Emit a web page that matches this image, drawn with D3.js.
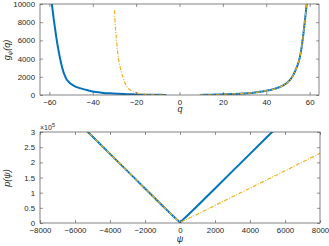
<!DOCTYPE html>
<html><head><meta charset="utf-8">
<script src="https://cdn.jsdelivr.net/npm/d3@7"></script>
<style>
html,body{margin:0;padding:0;background:#fff;}
svg{display:block;}
text{font-family:"Liberation Sans",Arial,sans-serif;fill:#262626;}
</style></head><body>
<svg id="c" width="329" height="246"></svg>
<script>
// ---- Data ----
// Top panel: g_psi(q)
const blueLeftQ = [-60,-59,-58,-57,-56,-55,-54,-53,-52,-50,-48,-46,-44,-42,-40,-36,-32,-28,-24,-20,-16,-12,-8,-6];
const blueLeftG = [12500,10300,8400,6700,5200,3950,2950,2200,1700,1200,930,760,620,500,380,260,180,130,90,60,40,25,15,10];
const orangeLeftQ = [-30,-29.5,-29,-28.5,-28,-27,-26,-25,-24,-23,-22,-21,-20,-18,-16,-14,-12,-10,-8,-6];
const orangeLeftG = [9300,7300,5900,4700,3800,2700,1900,1250,850,600,450,330,250,150,90,50,30,20,10,5];
const rightQ = [9.4,12,15,18,20,24,28,31,34,37,40,42,44,46,48,50,52,54,55,56,57,58,58.6,59];
const rightG = [10,20,35,55,70,110,150,190,260,350,470,560,680,850,1080,1420,2000,3000,3700,4800,6500,8600,9900,11000];
const topXTicks = [-60,-40,-20,0,20,40,60];
const topYTicks = [0,2000,4000,6000,8000,10000];

// Bottom panel: p(psi)
const bluePsi = [-5500,-5000,-4000,-3000,-2000,-1000,-500,0,500,1000,2000,3000,4000,5000,5500];
const blueP   = [313000,285000,228000,171000,114000,57000,29000,2000,29000,57000,114000,171000,228000,285000,313000];
const orangePsi = [-5500,-5000,-4000,-3000,-2000,-1000,-500,0,1000,2000,4000,6000,8000];
const orangeP   = [313000,285000,228000,171000,114000,57000,29000,2000,29000,58000,115000,172000,230000];
const botXTicks = [-8000,-6000,-4000,-2000,0,2000,4000,6000,8000];
const botYTicks = [0,50000,100000,150000,200000,250000,300000];
const botYLabels = ["0","0.5","1","1.5","2","2.5","3"];

const BLUE = "#0072BD", ORANGE = "#EDB120", AX = "#4d4d4d";
const svg = d3.select("#c");

function panel(opts){
  const {x0,x1,y0,y1,xdom,ydom,xt,yt,ytf,id} = opts;
  const x = d3.scaleLinear().domain(xdom).range([x0,x1]);
  const y = d3.scaleLinear().domain(ydom).range([y1,y0]);
  const g = svg.append("g");
  g.append("clipPath").attr("id",id).append("rect")
    .attr("x",x0).attr("y",y0).attr("width",x1-x0).attr("height",y1-y0);
  const plot = g.append("g").attr("clip-path",`url(#${id})`);
  const tk = 3;
  const bx = d3.axisBottom(x).tickValues(xt).tickSizeInner(-tk).tickSizeOuter(0).tickPadding(4).tickFormat(d3.format("d"));
  const tx = d3.axisTop(x).tickValues(xt).tickSizeInner(-tk).tickSizeOuter(0).tickFormat("");
  const ly = d3.axisLeft(y).tickValues(yt).tickSizeInner(-tk).tickSizeOuter(0).tickPadding(5).tickFormat(ytf);
  const ry = d3.axisRight(y).tickValues(yt).tickSizeInner(-tk).tickSizeOuter(0).tickFormat("");
  const style = sel => { sel.select(".domain").remove(); sel.selectAll("line").attr("stroke",AX).attr("stroke-width",0.6);
    sel.selectAll("text").attr("font-size",7.8).attr("fill","#333").attr("font-family","'Liberation Sans',Arial,sans-serif"); };
  g.append("g").attr("transform",`translate(0,${y1})`).call(bx).call(style);
  g.append("g").attr("transform",`translate(0,${y0})`).call(tx).call(style);
  g.append("g").attr("transform",`translate(${x0},0)`).call(ly).call(style);
  g.append("g").attr("transform",`translate(${x1},0)`).call(ry).call(style);
  g.append("rect").attr("x",x0).attr("y",y0).attr("width",x1-x0).attr("height",y1-y0)
    .attr("fill","none").attr("stroke",AX).attr("stroke-width",0.7);
  return {x,y,plot,g};
}

function drawLine(p, xs, ys, color, w, dash, curve){
  const pts = xs.map((v,i)=>[v,ys[i]]);
  const line = d3.line().x(d=>p.x(d[0])).y(d=>p.y(d[1])).curve(curve||d3.curveLinear);
  p.plot.append("path").datum(pts).attr("d",line).attr("fill","none")
    .attr("stroke",color).attr("stroke-width",w).attr("stroke-linejoin","round")
    .attr("stroke-dasharray",dash||null);
}

// Top panel
const P1 = panel({x0:40,x1:319,y0:4,y1:95,xdom:[-64.3,64.3],ydom:[0,10000],
  xt:topXTicks,yt:topYTicks,ytf:d3.format("d"),id:"c1"});
const cr = d3.curveCatmullRom.alpha(0.5);
drawLine(P1, blueLeftQ, blueLeftG, BLUE, 2, null, cr);
drawLine(P1, rightQ, rightG, BLUE, 2, null, cr);
drawLine(P1, orangeLeftQ, orangeLeftG, ORANGE, 1.2, "4,1.5,1,1.5", cr);
drawLine(P1, rightQ, rightG, ORANGE, 1.2, "4,1.5,1,1.5", cr);

// Bottom panel
const P2 = panel({x0:40,x1:320,y0:132,y1:223,xdom:[-8000,8000],ydom:[0,300000],
  xt:botXTicks,yt:botYTicks,ytf:(d,i)=>botYLabels[i],id:"c2"});
drawLine(P2, bluePsi, blueP, BLUE, 2);
drawLine(P2, orangePsi, orangeP, ORANGE, 1.2, "4,1.5,1,1.5");

// Exponent label
const ex = svg.append("text").attr("x",40).attr("y",130).attr("font-size",7).attr("fill","#333");
ex.append("tspan").text("×10");
ex.append("tspan").attr("dy",-3).attr("font-size",5.5).text("5");

// Axis labels
const ital = "'DejaVu Serif','Liberation Serif',serif";
const yl1 = svg.append("text").attr("transform","translate(10,50) rotate(-90)").attr("text-anchor","middle")
  .attr("font-size",9).attr("font-style","italic").attr("font-family",ital).attr("fill","#333");
yl1.append("tspan").text("g");
yl1.append("tspan").attr("dy",2).attr("font-size",6).text("ψ");
yl1.append("tspan").attr("dy",-2).text("(q)");
svg.append("text").attr("transform","translate(10,178) rotate(-90)").attr("text-anchor","middle")
  .attr("font-size",9).attr("font-style","italic").attr("font-family",ital).attr("fill","#333").text("p(ψ)");
svg.append("text").attr("x",180).attr("y",112).attr("text-anchor","middle")
  .attr("font-size",9).attr("font-style","italic").attr("font-family",ital).attr("fill","#333").text("q");
svg.append("text").attr("x",180).attr("y",242).attr("text-anchor","middle")
  .attr("font-size",9).attr("font-style","italic").attr("font-family",ital).attr("fill","#333").text("ψ");
</script>
</body></html>
